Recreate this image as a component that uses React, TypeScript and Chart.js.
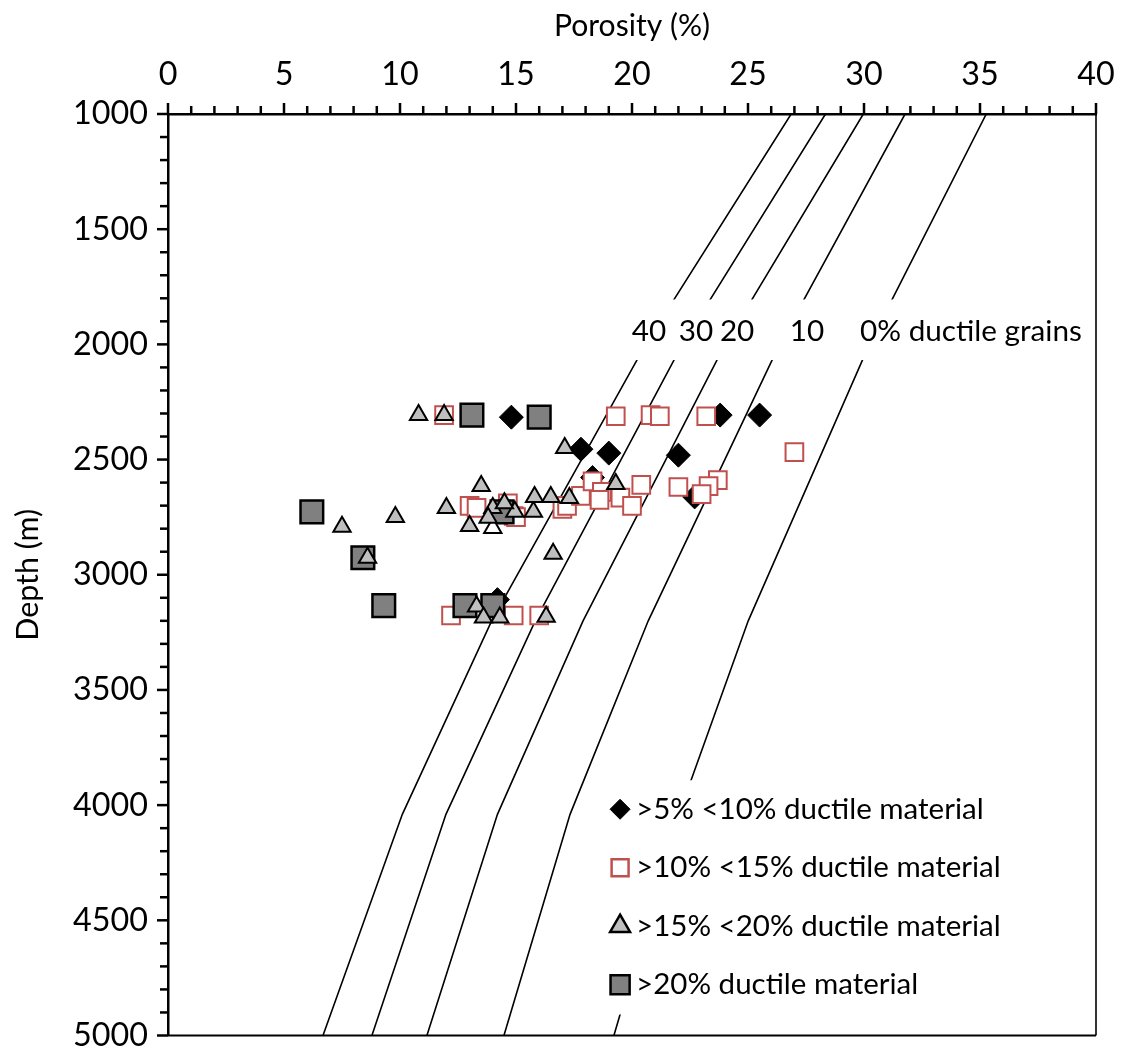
import React, { useEffect, useRef } from 'react';
import { Chart, registerables } from 'chart.js';
import { drawPoint } from 'chart.js/helpers';

Chart.register(...registerables);

const FONT = 'Lato';

// Compaction curves (porosity % vs depth m) for different ductile-grain contents
const curveDepths = [1000, 2000, 3200, 4040, 5000];
const curve0 = [35.27, 30.23, 25.01, 22.02, 19.22];
const curve10 = [31.77, 26.36, 20.7, 17.33, 14.48];
const curve20 = [29.97, 24.01, 17.89, 14.2, 11.16];
const curve30 = [28.34, 22.17, 15.83, 11.98, 8.79];
const curve40 = [26.86, 20.59, 13.95, 10.1, 6.68];

// Curve labels (porosity position at label depth)
const curveLabelText = ['40', '30', '20', '10', '0% ductile grains'];
const curveLabelPor = [20.73, 22.76, 24.53, 27.54, 29.83];
const curveLabelAlign = ['center', 'center', 'center', 'center', 'left'];
const curveLabelDepth = 1944;

// >5% <10% ductile material
const diamondPor = [14.8, 17.8, 19.0, 22.0, 23.8, 25.5, 18.3, 22.7, 14.2];
const diamondDepth = [2316, 2455, 2472, 2481, 2307, 2307, 2578, 2662, 3108];

// >10% <15% ductile material
const redPor = [11.9, 19.3, 20.8, 21.2, 23.2, 27.0, 13.0, 13.3, 14.65, 14.9, 15.0, 17.0, 17.2, 17.8, 18.3, 18.7, 19.5, 20.0, 20.4, 22.0, 23.7, 23.3, 23.0, 12.2, 14.9, 16.0, 18.6];
const redDepth = [2307, 2312, 2307, 2312, 2312, 2468, 2701, 2710, 2690, 2745, 2750, 2714, 2701, 2658, 2595, 2640, 2665, 2701, 2610, 2619, 2589, 2615, 2650, 3177, 3177, 3177, 2675];

// >15% <20% ductile material
const triPor = [10.8, 11.9, 17.1, 13.5, 12.0, 14.0, 13.0, 14.0, 13.8, 14.95, 15.75, 15.8, 16.5, 17.3, 19.3, 16.6, 14.5, 7.5, 9.8, 8.6, 13.3, 13.6, 14.3, 16.3];
const triDepth = [2307, 2307, 2450, 2615, 2710, 2710, 2788, 2797, 2753, 2727, 2727, 2662, 2662, 2667, 2606, 2909, 2690, 2792, 2749, 2926, 3138, 3186, 3186, 3182];
const triHollow = [7];

// >20% ductile material
const darkPor = [13.1, 16.0, 6.2, 8.4, 9.3, 12.8, 14.0, 14.4];
const darkDepth = [2307, 2316, 2727, 2926, 3134, 3134, 3134, 2727];

const legendLabels = ['>5% <10% ductile material', '>10% <15% ductile material', '>15% <20% ductile material', '>20% ductile material'];

const pts = (xs: number[], ys: number[]) => xs.map((x, i) => ({ x, y: ys[i] }));

// font size that makes `text` about `target` px wide
function fitSize(text: string, target: number): number {
  const c = document.createElement('canvas').getContext('2d')!;
  c.font = `100px ${FONT}`;
  const w = c.measureText(text).width;
  return Math.round((100 * target / w) * 10) / 10;
}

const markerStyles = [
  { pointStyle: 'rectRot', radius: 10, fill: '#000000', stroke: '#000000', lw: 1 },
  { pointStyle: 'rect', radius: 12, fill: '#ffffff', stroke: '#C0504D', lw: 2.5 },
  { pointStyle: 'triangle', radius: 11.5, fill: '#BFBFBF', stroke: '#000000', lw: 2.5 },
  { pointStyle: 'rect', radius: 13.5, fill: '#808080', stroke: '#000000', lw: 2.5 },
];

function makePlugin(legendSize: number, labelSize: number) {
  return {
    id: 'customDecor',
    afterDatasetsDraw(chart: any) {
      const { ctx, scales } = chart;
      const x = scales.x;
      const y = scales.y;
      ctx.save();
      // curve labels with white backing
      const top = y.getPixelForValue(1805);
      const bot = y.getPixelForValue(2068);
      const l = x.getPixelForValue(19.7);
      const r = x.getPixelForValue(39.7);
      ctx.fillStyle = '#ffffff';
      ctx.fillRect(l, top, r - l, bot - top);
      ctx.fillStyle = '#000000';
      ctx.font = `${labelSize}px ${FONT}`;
      ctx.textBaseline = 'middle';
      const ly = y.getPixelForValue(curveLabelDepth);
      curveLabelText.forEach((t, i) => {
        ctx.textAlign = curveLabelAlign[i] as CanvasTextAlign;
        ctx.fillText(t, x.getPixelForValue(curveLabelPor[i]), ly);
      });
      // legend box
      const lgL = x.getPixelForValue(18.84);
      const lgR = x.getPixelForValue(36.6);
      const lgT = y.getPixelForValue(3892);
      const lgB = y.getPixelForValue(4909);
      ctx.fillStyle = '#ffffff';
      ctx.fillRect(lgL, lgT, lgR - lgL, lgB - lgT);
      const rowStart = lgT + 29;
      const rowGap = 58.5;
      const mx = lgL + 15;
      legendLabels.forEach((t, i) => {
        const s = markerStyles[i];
        const cy = rowStart + i * rowGap;
        ctx.fillStyle = s.fill;
        ctx.strokeStyle = s.stroke;
        ctx.lineWidth = s.lw;
        drawPoint(ctx, { pointStyle: s.pointStyle, radius: s.radius, rotation: 0, borderWidth: s.lw } as any, mx, cy);
        ctx.fillStyle = '#000000';
        ctx.textAlign = 'left';
        ctx.font = `${legendSize}px ${FONT}`;
        ctx.fillText(t, mx + 16, cy);
      });
      ctx.restore();
    },
    afterDraw(chart: any) {
      const { ctx, scales, chartArea } = chart;
      const x = scales.x;
      const y = scales.y;
      ctx.save();
      ctx.strokeStyle = '#000000';
      ctx.lineWidth = 2.5;
      x.ticks.forEach((t: any) => {
        const px = x.getPixelForValue(t.value);
        const len = t.value % 5 === 0 ? 11 : 8;
        ctx.beginPath();
        ctx.moveTo(px, chartArea.top);
        ctx.lineTo(px, chartArea.top - len);
        ctx.stroke();
      });
      y.ticks.forEach((t: any) => {
        const py = y.getPixelForValue(t.value);
        const len = t.value % 500 === 0 ? 11 : 8;
        ctx.beginPath();
        ctx.moveTo(chartArea.left, py);
        ctx.lineTo(chartArea.left - len, py);
        ctx.stroke();
      });
      ctx.lineWidth = 1.6;
      ctx.beginPath();
      ctx.moveTo(chartArea.right, chartArea.top);
      ctx.lineTo(chartArea.right, chartArea.bottom);
      ctx.stroke();
      ctx.lineWidth = 2.2;
      ctx.beginPath();
      ctx.moveTo(chartArea.left, chartArea.bottom);
      ctx.lineTo(chartArea.right, chartArea.bottom);
      ctx.stroke();
      ctx.restore();
    },
  };
}

export default function App() {
  const ref = useRef<HTMLCanvasElement>(null);
  useEffect(() => {
    if (!ref.current) return;
    const tickSize = fitSize('1000', 75);
    const xTitleSize = fitSize('Porosity (%)', 156);
    const yTitleSize = fitSize('Depth (m)', 132);
    const legendSize = fitSize(legendLabels[0], 348);
    const labelSize = fitSize('0% ductile grains', 222);
    const curveDs = [curve40, curve30, curve20, curve10, curve0].map((c) => ({
      label: 'curve',
      data: pts(c, curveDepths),
      showLine: true,
      pointRadius: 0,
      borderColor: '#000000',
      borderWidth: 1.6,
      fill: false,
      tension: 0,
      order: 10,
    }));
    const chart = new Chart(ref.current, {
      type: 'scatter',
      data: {
        datasets: [
          {
            label: legendLabels[2],
            data: pts(triPor, triDepth),
            pointStyle: 'triangle',
            pointRadius: 10,
            backgroundColor: triPor.map((_, i) => (triHollow.includes(i) ? '#ffffff' : '#BFBFBF')),
            borderColor: '#000000',
            borderWidth: 2,
            order: 1,
          },
          {
            label: legendLabels[3],
            data: pts(darkPor, darkDepth),
            pointStyle: 'rect',
            pointRadius: 16,
            backgroundColor: '#808080',
            borderColor: '#000000',
            borderWidth: 2.5,
            order: 2,
          },
          {
            label: legendLabels[1],
            data: pts(redPor, redDepth),
            pointStyle: 'rect',
            pointRadius: 12.5,
            backgroundColor: '#ffffff',
            borderColor: '#C0504D',
            borderWidth: 2,
            order: 3,
          },
          {
            label: legendLabels[0],
            data: pts(diamondPor, diamondDepth),
            pointStyle: 'rectRot',
            pointRadius: 12,
            backgroundColor: '#000000',
            borderColor: '#000000',
            borderWidth: 1,
            order: 4,
          },
          ...curveDs,
        ] as any,
      },
      options: {
        animation: false,
        responsive: false,
        devicePixelRatio: 1,
        events: [],
        layout: { padding: { left: 0, right: 21, top: 0, bottom: 16 } },
        plugins: { legend: { display: false }, tooltip: { enabled: false } },
        scales: {
          x: {
            type: 'linear',
            position: 'top',
            min: 0,
            max: 40,
            afterFit: (s: any) => {
              s.height = 106;
              s.paddingLeft = 0;
              s.paddingRight = 0;
            },
            ticks: {
              stepSize: 1,
              maxTicksLimit: 100,
              autoSkip: false,
              maxRotation: 0,
              padding: 20,
              color: '#000000',
              font: { family: FONT, size: tickSize },
              callback: (v: any) => (Number(v) % 5 === 0 ? String(v) : ''),
            },
            grid: { display: true, drawOnChartArea: false, drawTicks: false },
            border: { display: true, color: '#000000', width: 2.5 },
            title: {
              display: true,
              text: 'Porosity (%)',
              color: '#000000',
              font: { family: FONT, size: xTitleSize },
              padding: { top: 0, bottom: 0 },
            },
          },
          y: {
            type: 'linear',
            reverse: true,
            min: 1000,
            max: 5000,
            afterFit: (s: any) => {
              s.width = 160;
              s.paddingTop = 0;
              s.paddingBottom = 0;
            },
            ticks: {
              stepSize: 100,
              maxTicksLimit: 100,
              autoSkip: false,
              padding: 20,
              color: '#000000',
              font: { family: FONT, size: tickSize },
              callback: (v: any) => (Number(v) % 500 === 0 ? String(v) : ''),
            },
            grid: { display: true, drawOnChartArea: false, drawTicks: false },
            border: { display: true, color: '#000000', width: 2.5 },
            title: {
              display: true,
              text: 'Depth (m)',
              color: '#000000',
              font: { family: FONT, size: yTitleSize },
              padding: { top: 2, bottom: 0 },
            },
          },
        },
      } as any,
      plugins: [makePlugin(legendSize, labelSize)],
    });
    return () => chart.destroy();
  }, []);
  return (
    <div style={{ width: 1109, height: 1046 }}>
      <canvas ref={ref} width={1109} height={1046} style={{ display: 'block' }} />
    </div>
  );
}
